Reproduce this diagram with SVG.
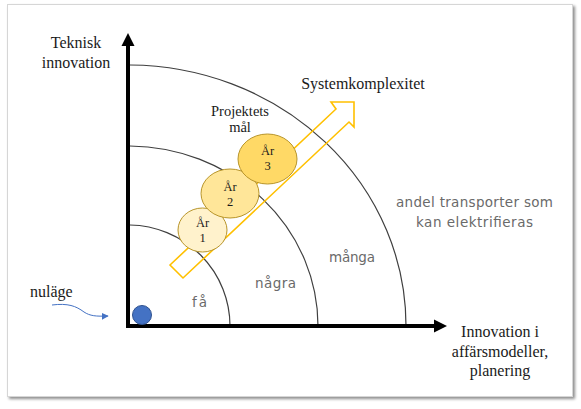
<svg xmlns="http://www.w3.org/2000/svg" width="581" height="409" viewBox="0 0 581 409">
<defs>
<filter id="sh" x="-5%" y="-5%" width="110%" height="110%">
<feGaussianBlur in="SourceAlpha" stdDeviation="1.5"/>
<feOffset dx="2" dy="2" result="b"/>
<feComponentTransfer><feFuncA type="linear" slope="0.45"/></feComponentTransfer>
<feMerge><feMergeNode/><feMergeNode in="SourceGraphic"/></feMerge>
</filter>
<marker id="blueHead" viewBox="0 0 10 10" refX="9" refY="5" markerWidth="7" markerHeight="7" markerUnits="userSpaceOnUse" orient="auto">
<path d="M0,0 L10,5 L0,10 z" fill="#4472C4"/>
</marker>
</defs>
<style>
.serif{font-family:"Liberation Serif","Times New Roman",serif;fill:#1a1a1a}
.lab{font-size:16px}
.hand{font-family:"DejaVu Sans",sans-serif;font-size:13.5px;fill:#6a6a6a}
.arc{fill:none;stroke:#3f3f3f;stroke-width:1.2}
.goal{stroke:#B8952A;stroke-width:1}
.goaltxt{font-family:"Liberation Serif","Times New Roman",serif;font-size:12.5px;fill:#1a1a1a;text-anchor:middle}
</style>
<rect x="7.5" y="4.5" width="565" height="392" fill="#ffffff" stroke="#d6d6d6" stroke-width="1" filter="url(#sh)"/>

<g id="arcs">
<path class="arc" d="M130,225 A102,101 0 0 1 230,326"/>
<path class="arc" d="M130,146 A190,180 0 0 1 318,326"/>
<path class="arc" d="M130,65 A278,261 0 0 1 406,326"/>
</g>

<g id="connectors">
<path d="M128,44 V326 H436" fill="none" stroke="#000" stroke-width="4"/>
<polygon points="128,33 121.5,46 134.5,46" fill="#000"/>
<polygon points="447,326 434,319.5 434,332.5" fill="#000"/>
<path d="M52,305 C68,303 76,306 84,312 C90,316 96,316.5 108,316" fill="none" stroke="#4472C4" stroke-width="1" marker-end="url(#blueHead)"/>
</g>

<g id="systemarrow">
<polygon points="170,265 336,109 331,102 354,102 354,127 349,122 183,278" fill="none" stroke="#FFC000" stroke-width="1.6" stroke-linejoin="miter"/>
<text class="serif lab" x="363" y="88.5" text-anchor="middle">Systemkomplexitet</text>
</g>

<g id="y-label">
<text class="serif lab" x="76" y="48" text-anchor="middle">Teknisk</text>
<text class="serif lab" x="76" y="68" text-anchor="middle">innovation</text>
</g>

<g id="x-label">
<text class="serif lab" x="500" y="337" text-anchor="middle">Innovation i</text>
<text class="serif lab" x="500" y="357" text-anchor="middle">affärsmodeller,</text>
<text class="serif lab" x="500" y="376" text-anchor="middle">planering</text>
</g>

<g id="nulage">
<text class="serif lab" x="30" y="297">nuläge</text>
<circle cx="142" cy="315" r="9.5" fill="#4472C4" stroke="#2F528F" stroke-width="1"/>
</g>

<g id="goals">
<text class="serif" x="240" y="116" font-size="14.5" text-anchor="middle">Projektets</text>
<text class="serif" x="240" y="132" font-size="14.5" text-anchor="middle">mål</text>
</g>

<g id="ar1">
<ellipse class="goal" cx="202.5" cy="230" rx="24.5" ry="22" fill="#FFF2CC"/>
<text class="goaltxt" x="202.5" y="227">År</text>
<text class="goaltxt" x="202.5" y="241.5">1</text>
</g>
<g id="ar2">
<ellipse class="goal" cx="230" cy="193.5" rx="29" ry="24.5" fill="#FFE699"/>
<text class="goaltxt" x="230" y="191">År</text>
<text class="goaltxt" x="230" y="206">2</text>
</g>
<g id="ar3">
<ellipse class="goal" cx="267.5" cy="159" rx="29.5" ry="25" fill="#FFD966"/>
<text class="goaltxt" x="267.5" y="155">År</text>
<text class="goaltxt" x="267.5" y="169.5">3</text>
</g>

<g id="zones">
<text class="hand" x="192" y="307" textLength="15">få</text>
<text class="hand" x="255" y="288" textLength="41">några</text>
<text class="hand" x="329" y="262" textLength="46">många</text>
<text class="hand" x="396" y="207" textLength="157">andel transporter som</text>
<text class="hand" x="416" y="227" textLength="117">kan elektrifieras</text>
</g>
</svg>
